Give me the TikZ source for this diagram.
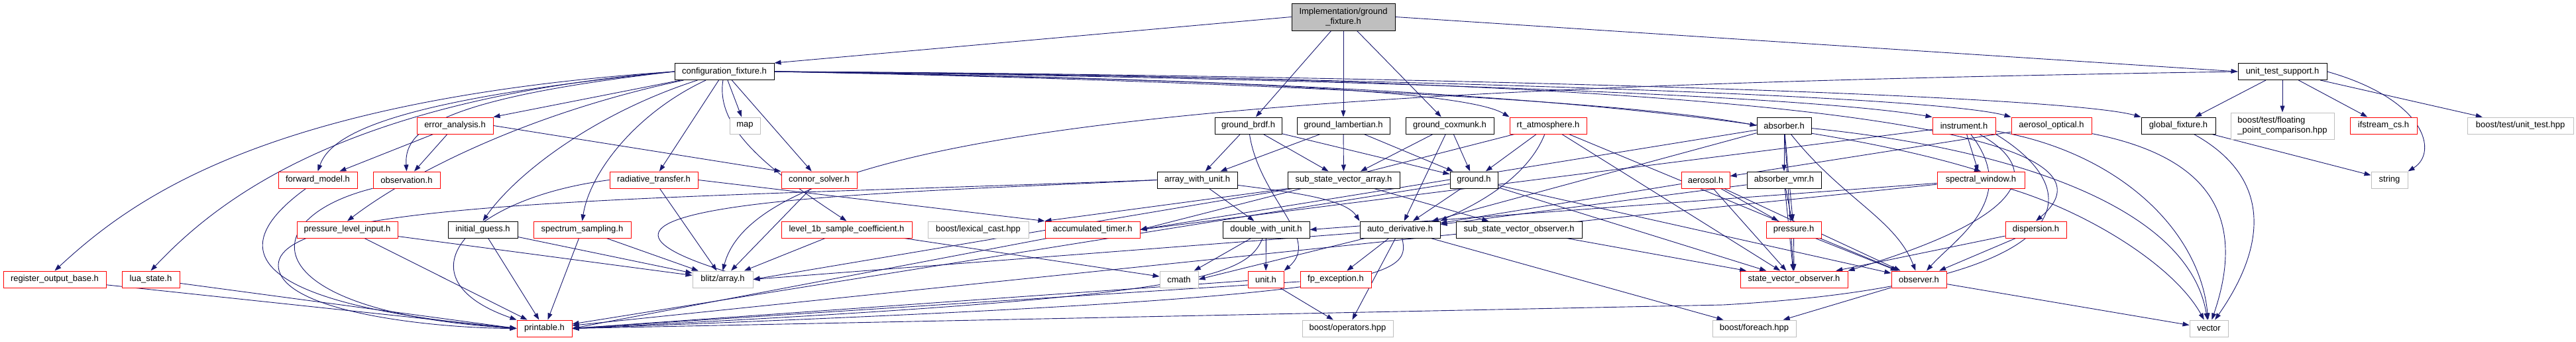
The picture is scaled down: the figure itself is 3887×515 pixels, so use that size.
\documentclass[tikz,border=0pt]{standalone}
\usepackage{fontspec}
\setmainfont{Liberation Sans}
\usetikzlibrary{arrows.meta,backgrounds}
\definecolor{edgec}{HTML}{191970}
\definecolor{redb}{HTML}{FF0000}
\definecolor{grayb}{HTML}{BFBFBF}
\definecolor{rootf}{HTML}{BFBFBF}
\newcommand{\mknode}[6]{\node[#2,minimum width=#5pt] (#1) at (#3,#4) {#6};}
\begin{document}
\begin{tikzpicture}[x=1pt,y=-1pt,
  box/.style={draw=black,line width=1pt,fill=white,minimum height=25pt,inner xsep=1pt,inner ysep=0pt,font=\fontsize{13}{15}\selectfont},
  redbox/.style={box,draw=redb},
  extbox/.style={box,draw=grayb},
  rootbox/.style={box,fill=rootf,minimum height=41pt,align=center},
  dep/.style={draw=edgec,line width=0.9pt,-{Triangle[length=10pt,width=7pt]}}]
\useasboundingbox (0,0) rectangle (3887,515);
% level 0
\mknode{gf}{rootbox}{2027}{25.5}{156}{Implementation/ground\\\_fixture.h}
% level 1
\mknode{cf}{box}{1093}{108}{150}{configuration\_fixture.h}
\mknode{uts}{box}{3444}{108}{134}{unit\_test\_support.h}
% level 2
\mknode{ea}{redbox}{686.5}{189.5}{115}{error\_analysis.h}
\mknode{map}{extbox}{1124}{189.5}{46}{map}
\mknode{gbrdf}{box}{1883.5}{189.5}{101}{ground\_brdf.h}
\mknode{glam}{box}{2027}{189.5}{140}{ground\_lambertian.h}
\mknode{gcox}{box}{2187.5}{189.5}{133}{ground\_coxmunk.h}
\mknode{rta}{redbox}{2336}{189.5}{116}{rt\_atmosphere.h}
\mknode{abs}{box}{2692}{189.5}{82}{absorber.h}
\mknode{ins}{redbox}{2963.5}{189.5}{95}{instrument.h}
\mknode{aop}{redbox}{3095.5}{189.5}{121}{aerosol\_optical.h}
\mknode{glf}{box}{3287}{189.5}{112}{global\_fixture.h}
\node[extbox,minimum width=156pt,minimum height=40pt,align=left] (fpc) at (3444,190) {boost/test/floating\\\_point\_comparison.hpp};
\mknode{ifs}{redbox}{3596.5}{189.5}{101}{ifstream\_cs.h}
\mknode{utest}{extbox}{3803}{189.5}{160}{boost/test/unit\_test.hpp}
% level 3
\mknode{fm}{redbox}{479.5}{271.5}{119}{forward\_model.h}
\mknode{obs}{redbox}{613.5}{271.5}{101}{observation.h}
\mknode{rtr}{redbox}{986.5}{271.5}{133}{radiative\_transfer.h}
\mknode{cs}{redbox}{1236}{271.5}{114}{connor\_solver.h}
\mknode{awu}{box}{1806.5}{271.5}{121}{array\_with\_unit.h}
\mknode{ssva}{box}{2027.5}{271.5}{169}{sub\_state\_vector\_array.h}
\mknode{gnd}{box}{2224}{271.5}{72}{ground.h}
\mknode{aer}{redbox}{2573.5}{271.5}{73}{aerosol.h}
\mknode{avmr}{box}{2692}{271.5}{112}{absorber\_vmr.h}
\mknode{sw}{redbox}{2989}{271.5}{132}{spectral\_window.h}
\mknode{str}{extbox}{3605.5}{271.5}{55}{string}
% level 4
\mknode{pli}{redbox}{524}{346.5}{152}{pressure\_level\_input.h}
\mknode{ig}{box}{728.5}{346.5}{105}{initial\_guess.h}
\mknode{ss}{redbox}{878.5}{346.5}{147}{spectrum\_sampling.h}
\mknode{lsc}{redbox}{1277.5}{346.5}{197}{level\_1b\_sample\_coefficient.h}
\mknode{blc}{extbox}{1476}{346.5}{152}{boost/lexical\_cast.hpp}
\mknode{acc}{redbox}{1648.5}{346.5}{143}{accumulated\_timer.h}
\mknode{dwu}{box}{1910.5}{346.5}{131}{double\_with\_unit.h}
\mknode{ad}{box}{2112.5}{346.5}{121}{auto\_derivative.h}
\mknode{ssvo}{box}{2292}{346.5}{190}{sub\_state\_vector\_observer.h}
\mknode{prs}{redbox}{2706.5}{346.5}{83}{pressure.h}
\mknode{disp}{redbox}{3072}{346.5}{92}{dispersion.h}
% level 5
\mknode{rob}{redbox}{82.5}{421.5}{155}{register\_output\_base.h}
\mknode{lua}{redbox}{227.5}{421.5}{87}{lua\_state.h}
\mknode{blz}{extbox}{1090.5}{421.5}{91}{blitz/array.h}
\mknode{cm}{extbox}{1779}{421.5}{58}{cmath}
\mknode{unit}{redbox}{1910}{421.5}{54}{unit.h}
\mknode{fpe}{redbox}{2015.5}{421.5}{107}{fp\_exception.h}
\mknode{svo}{redbox}{2707}{421.5}{162}{state\_vector\_observer.h}
\mknode{obsr}{redbox}{2895.5}{421.5}{83}{observer.h}
% level 6
\mknode{prt}{redbox}{821.5}{495.5}{83}{printable.h}
\mknode{bop}{extbox}{2033.5}{495.5}{137}{boost/operators.hpp}
\mknode{bfe}{extbox}{2647}{495.5}{126}{boost/foreach.hpp}
\mknode{vec}{extbox}{3333}{495.5}{58}{vector}

\begin{pgfonlayer}{background}
% edges from root
\draw[dep] (gf.west) -- (cf.north east);
\draw[dep] (gf) -- (gbrdf);
\draw[dep] (gf) -- (glam);
\draw[dep] (gf) -- (gcox);
\draw[dep] (gf.east) -- (uts.west);
% configuration_fixture
\draw[dep] (cf.west) .. controls (400,150) and (200,300) .. (rob.north);
\draw[dep] (cf.west) .. controls (520,150) and (330,300) .. (lua.north);
\draw[dep] (cf.west) .. controls (600,150) and (500,200) .. (fm.north);
\draw[dep] (cf.west) .. controls (650,150) and (610,200) .. (obs.north);
\draw[dep] (cf) -- (ea.north east);
\draw[dep] (cf) .. controls (800,170) and (620,260) .. (pli.north);
\draw[dep] (cf) .. controls (900,170) and (780,260) .. (ig.north);
\draw[dep] (cf) .. controls (960,170) and (890,260) .. (ss.north);
\draw[dep] (cf) -- (rtr);
\draw[dep] (cf) .. controls (1080,190) and (1150,250) .. (lsc.north);
\draw[dep] (cf) -- (map);
\draw[dep] (cf) -- (cs);
\draw[dep] (cf.east) .. controls (1700,118) and (2200,130) .. (rta.north west);
\draw[dep] (cf.east) .. controls (1800,120) and (2450,150) .. (abs.west);
\draw[dep] (cf.east) .. controls (1800,118) and (2600,140) .. (sw.north);
\draw[dep] (cf.east) .. controls (1900,116) and (2700,140) .. (ins.north west);
\draw[dep] (cf.east) .. controls (1900,114) and (2900,140) .. (aop.north west);
\draw[dep] (cf.east) .. controls (2000,113) and (3300,140) .. (disp.north);
\draw[dep] (cf.east) .. controls (2000,112) and (3100,140) .. (glf.north west);
% error_analysis
\draw[dep] (ea) -- (fm);
\draw[dep] (ea) -- (obs);
\draw[dep] (ea.east) -- (cs.north west);
% unit_test_support
\draw[dep] (uts) -- (glf);
\draw[dep] (uts) -- (fpc);
\draw[dep] (uts) -- (ifs);
\draw[dep] (uts) -- (utest);
\draw[dep] (uts.east) .. controls (3660,150) and (3680,230) .. (str.north east);
\draw[dep] (uts.west) .. controls (2000,130) and (1150,180) .. (blz.north);
% global_fixture
\draw[dep] (glf) -- (str);
\draw[dep] (glf) .. controls (3450,280) and (3400,400) .. (vec);
% left nodes to printable
\draw[dep] (fm) .. controls (330,380) and (380,460) .. (prt.west);
\draw[dep] (obs) .. controls (380,330) and (380,470) .. (prt.west);
\draw[dep] (rob) -- (prt.west);
\draw[dep] (lua) -- (prt.west);
\draw[dep] (pli) -- (prt);
\draw[dep] (pli) -- (blz);
\draw[dep] (ig) -- (prt);
\draw[dep] (ig) -- (blz);
\draw[dep] (ss) -- (prt);
\draw[dep] (ss) -- (blz);
\draw[dep] (rtr.west) .. controls (700,300) and (600,420) .. (prt.north west);
\draw[dep] (rtr) -- (blz);
\draw[dep] (rtr.east) -- (acc.north west);
\draw[dep] (cs) -- (blz);
\draw[dep] (lsc) -- (blz);
\draw[dep] (lsc) -- (cm);
% grounds
\draw[dep] (gbrdf) -- (awu);
\draw[dep] (gbrdf) -- (ssva);
\draw[dep] (gbrdf) -- (gnd);
\draw[dep] (gbrdf) .. controls (1900,300) and (1995,360) .. (unit.north east);
\draw[dep] (glam) -- (awu);
\draw[dep] (glam) -- (ssva);
\draw[dep] (glam) -- (gnd);
\draw[dep] (gcox) -- (ssva);
\draw[dep] (gcox) -- (gnd);
\draw[dep] (gcox) -- (ad);
\draw[dep] (rta) -- (gnd);
\draw[dep] (rta) .. controls (2300,280) and (2200,320) .. (ad.north east);
\draw[dep] (rta) -- (acc.east);
\draw[dep] (rta) -- (svo);
\draw[dep] (rta) -- (obsr);
% absorber etc
\draw[dep] (abs) -- (avmr);
\draw[dep] (abs) -- (prs);
\draw[dep] (abs) -- (svo);
\draw[dep] (abs) .. controls (2780,300) and (2860,330) .. (obsr);
\draw[dep] (abs) -- (ad);
\draw[dep] (abs) -- (acc.east);
\draw[dep] (abs) .. controls (3000,220) and (3300,300) .. (vec);
\draw[dep] (avmr) -- (prs);
\draw[dep] (avmr) -- (svo);
\draw[dep] (avmr) -- (ad);
\draw[dep] (aop) -- (aer);
\draw[dep] (aop) .. controls (3300,230) and (3400,300) .. (vec);
\draw[dep] (aer) -- (prs);
\draw[dep] (aer) -- (svo);
\draw[dep] (aer) -- (obsr);
\draw[dep] (aer) -- (ad);
\draw[dep] (ins) -- (sw);
\draw[dep] (ins) .. controls (3090,260) and (3050,330) .. (svo.north east);
\draw[dep] (ins) .. controls (3050,300) and (2950,360) .. (obsr);
\draw[dep] (ins) .. controls (3200,230) and (3320,350) .. (vec);
\draw[dep] (ins) -- (acc.east);
\draw[dep] (ins.south east) .. controls (3170,300) and (3120,430) .. (2600,460) -- (prt.east);
\draw[dep] (sw) -- (prt);
\draw[dep] (sw) .. controls (3150,320) and (3280,400) .. (vec);
\draw[dep] (sw) -- (dwu.east);
\draw[dep] (disp) -- (svo);
\draw[dep] (disp) -- (obsr);
\draw[dep] (prs) -- (svo);
\draw[dep] (prs) -- (obsr);
\draw[dep] (gnd) -- (ad);
\draw[dep] (gnd) -- (svo);
\draw[dep] (gnd) -- (obsr);
\draw[dep] (gnd) -- (prt);
\draw[dep] (awu) -- (dwu);
\draw[dep] (awu.west) .. controls (1400,290) and (700,300) .. (blz.east);
\draw[dep] (awu.west) .. controls (1000,300) and (420,300) .. (420,400) .. controls (420,470) and (650,495) .. (prt.west);
\draw[dep] (awu) .. controls (1950,290) and (2030,300) .. (ad.north west);
\draw[dep] (ssva) -- (ssvo);
\draw[dep] (ssva.south west) -- (acc.north west);
\draw[dep] (ssva) -- (blz.east);
\draw[dep] (ssvo) -- (svo);
\draw[dep] (dwu) -- (unit);
\draw[dep] (dwu) -- (cm);
\draw[dep] (dwu) .. controls (1880,420) and (1800,450) .. (prt.east);
\draw[dep] (unit) -- (prt.east);
\draw[dep] (unit) -- (bop);
\draw[dep] (ad) -- (fpe);
\draw[dep] (ad) -- (bop);
\draw[dep] (ad) -- (cm.east);
\draw[dep] (ad) -- (blz.east);
\draw[dep] (ad) .. controls (2130,420) and (2100,450) .. (prt.east);
\draw[dep] (ad) -- (bfe);
\draw[dep] (fpe) -- (prt.east);
\draw[dep] (acc) -- (prt.east);
\draw[dep] (obsr) -- (bfe);
\draw[dep] (obsr) -- (vec);
\end{pgfonlayer}
\end{tikzpicture}
\end{document}
